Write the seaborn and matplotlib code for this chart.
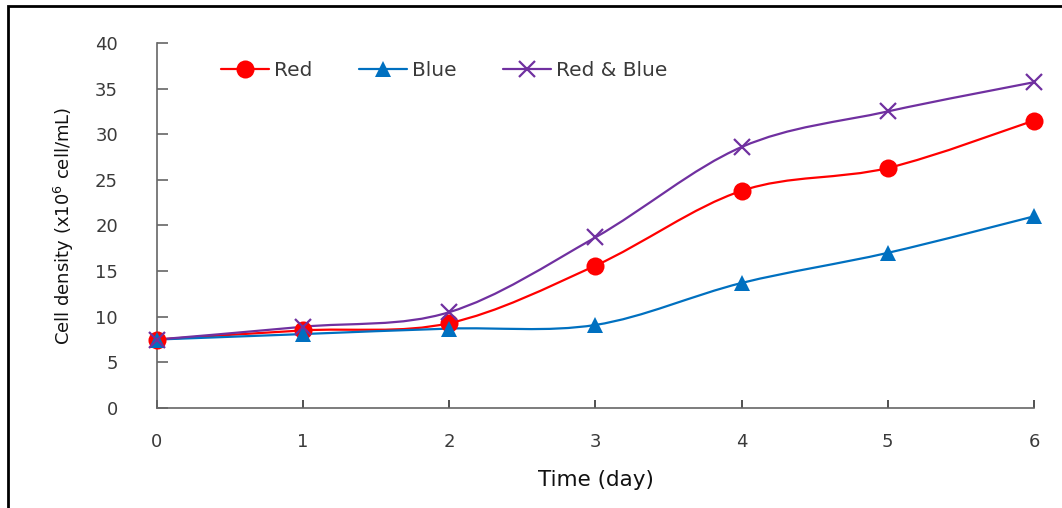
import numpy as np
import pandas as pd
import matplotlib
matplotlib.use("Agg")
import matplotlib.pyplot as plt
import seaborn as sns
from matplotlib.path import Path
from matplotlib.patches import PathPatch, Rectangle
from matplotlib.lines import Line2D

days = [0, 1, 2, 3, 4, 5, 6]
red = [7.5, 8.5, 9.3, 15.6, 23.8, 26.3, 31.5]
blue = [7.5, 8.1, 8.7, 9.1, 13.7, 17.0, 21.0]
red_blue = [7.5, 8.9, 10.5, 18.7, 28.6, 32.5, 35.7]

series = ["Red", "Blue", "Red & Blue"]
colors = {"Red": "#FF0000", "Blue": "#0070C0", "Red & Blue": "#7030A0"}
markers = {"Red": "o", "Blue": "^", "Red & Blue": "x"}
msizes = {"Red": 13, "Blue": 12, "Red & Blue": 11}

df = pd.DataFrame({
    "day": days * 3,
    "density": red + blue + red_blue,
    "group": ["Red"] * 7 + ["Blue"] * 7 + ["Red & Blue"] * 7,
})

sns.set_style("white")
plt.rcParams["font.family"] = ["DejaVu Sans"]
text_col = "#3a3a3a"

fig = plt.figure(figsize=(10.62, 5.08), dpi=100)
ax = fig.add_axes([0.1478, 0.1969, 0.8258, 0.7185])


def smooth_path(xs, ys):
    # Excel-style smoothed line: Catmull-Rom segments as cubic beziers
    p = np.column_stack([xs, ys]).astype(float)
    pts = [p[0]]
    codes = [Path.MOVETO]
    n = len(p)
    for i in range(n - 1):
        p0 = p[i - 1] if i > 0 else p[i]
        p3 = p[i + 2] if i + 2 < n else p[i + 1]
        c1 = p[i] + (p[i + 1] - p0) / 6
        c2 = p[i + 1] - (p3 - p[i]) / 6
        pts += [c1, c2, p[i + 1]]
        codes += [Path.CURVE4] * 3
    return Path(pts, codes)


for g in series:
    sub = df[df["group"] == g]
    patch = PathPatch(smooth_path(sub["day"], sub["density"]), fill=False,
                      edgecolor=colors[g], lw=1.6, clip_on=False, zorder=2)
    ax.add_patch(patch)

for g in series:
    sub = df[df["group"] == g]
    sns.lineplot(x=sub["day"], y=sub["density"], ax=ax, linestyle="",
                 marker=markers[g], markersize=msizes[g], color=colors[g],
                 markeredgecolor=colors[g], markeredgewidth=1.6 if g == "Red & Blue" else 0,
                 clip_on=False, zorder=3, legend=False)

ax.set_xlim(0, 6)
ax.set_ylim(0, 40)
ax.set_xticks(range(0, 7))
ax.set_yticks(range(0, 41, 5))
for s in ["top", "right"]:
    ax.spines[s].set_visible(False)
for s in ["left", "bottom"]:
    ax.spines[s].set_color("#666666")
    ax.spines[s].set_linewidth(1.2)
ax.tick_params(axis="y", left=True, direction="in", length=8, width=1.2, color="#666666",
               pad=28, labelsize=13, labelcolor=text_col)
ax.tick_params(axis="x", bottom=True, direction="in", length=6, width=1.2, color="#333333",
               pad=18, labelsize=13, labelcolor=text_col)
ax.set_xlabel("Time (day)", fontsize=15.5, color="#111111", labelpad=14)
ax.set_ylabel("Cell density (x10$^{6}$ cell/mL)", fontsize=13, color="#111111",
              labelpad=14)

handles = [Line2D([0], [0], color=colors[g], lw=1.6, marker=markers[g],
                  markersize=msizes[g], markeredgewidth=1.6 if g == "Red & Blue" else 0)
           for g in series]
leg = ax.legend(handles, series, loc="upper left", bbox_to_anchor=(0.052, 1.0),
                ncol=3, frameon=False, fontsize=14.5, handlelength=2.4,
                handletextpad=0.25, columnspacing=2.3)
for t in leg.get_texts():
    t.set_color(text_col)

fig.patches.append(Rectangle((8 / 1062, -0.1), 1.2, 1.1 - 6 / 508, transform=fig.transFigure,
                             fill=False, edgecolor="black", lw=2))

fig.savefig("out.png", dpi=100)
